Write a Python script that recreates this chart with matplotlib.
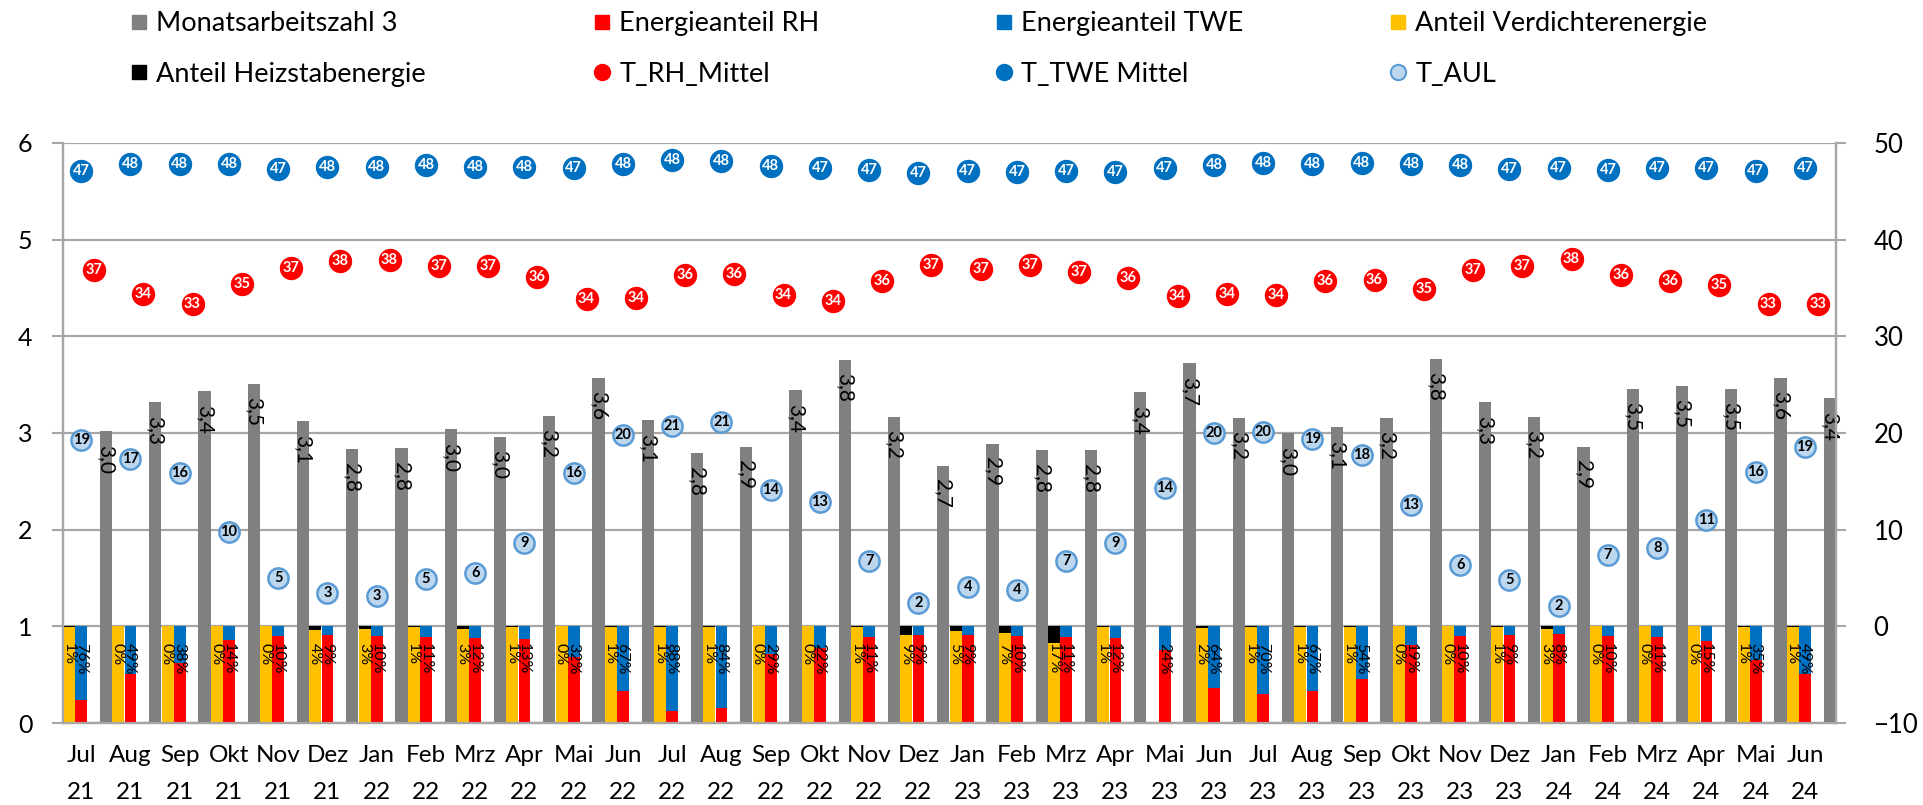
import matplotlib
matplotlib.use('Agg')
import matplotlib.pyplot as plt
from matplotlib.lines import Line2D
import numpy as np

plt.rcParams['font.family'] = ['Lato', 'DejaVu Sans']

months = ['Jul\n21', 'Aug\n21', 'Sep\n21', 'Okt\n21', 'Nov\n21', 'Dez\n21',
          'Jan\n22', 'Feb\n22', 'Mrz\n22', 'Apr\n22', 'Mai\n22', 'Jun\n22',
          'Jul\n22', 'Aug\n22', 'Sep\n22', 'Okt\n22', 'Nov\n22', 'Dez\n22',
          'Jan\n23', 'Feb\n23', 'Mrz\n23', 'Apr\n23', 'Mai\n23', 'Jun\n23',
          'Jul\n23', 'Aug\n23', 'Sep\n23', 'Okt\n23', 'Nov\n23', 'Dez\n23',
          'Jan\n24', 'Feb\n24', 'Mrz\n24', 'Apr\n24', 'Mai\n24', 'Jun\n24']

# Monatsarbeitszahl 3
maz3 = [3.02, 3.32, 3.43, 3.51, 3.12, 2.83, 2.84, 3.04, 2.96, 3.18, 3.57, 3.13,
        2.79, 2.86, 3.44, 3.76, 3.17, 2.66, 2.89, 2.82, 2.82, 3.42, 3.72, 3.16,
        3.00, 3.06, 3.16, 3.77, 3.32, 3.17, 2.86, 3.46, 3.49, 3.46, 3.57, 3.36]

# Energieanteil TWE in % (RH = 100 - TWE)
twe_pct = [76, 49, 38, 14, 10, 9, 10, 11, 12, 13, 32, 67,
           88, 84, 29, 22, 11, 9, 9, 10, 11, 12, 24, 64,
           70, 67, 54, 19, 10, 9, 8, 10, 11, 15, 35, 49]

# Anteil Heizstabenergie in % (Verdichter = 100 - Heizstab); None = no data
heiz_pct = [1, 0, 0, 0, 0, 4, 3, 1, 3, 1, 0, 1,
            1, 1, 0, 0, 1, 9, 5, 7, 17, 1, None, 2,
            1, 1, 1, 0, 0, 1, 3, 0, 0, 0, 1, 1]

t_twe = [47.1, 47.8, 47.8, 47.8, 47.3, 47.55, 47.55, 47.7, 47.55, 47.55, 47.45, 47.8,
         48.25, 48.1, 47.65, 47.45, 47.2, 46.9, 47.15, 47.0, 47.15, 47.0, 47.4, 47.75,
         47.95, 47.85, 47.95, 47.85, 47.75, 47.33, 47.45, 47.2, 47.4, 47.4, 47.15, 47.45]

t_rh = [36.9, 34.4, 33.35, 35.45, 37.1, 37.75, 37.85, 37.3, 37.3, 36.1, 33.9, 34.0,
        36.3, 36.45, 34.3, 33.65, 35.75, 37.4, 37.0, 37.4, 36.7, 36.0, 34.15, 34.4,
        34.3, 35.75, 35.8, 34.9, 36.9, 37.25, 38.05, 36.3, 35.7, 35.35, 33.3, 33.35]

t_aul = [19.24, 17.35, 15.86, 9.75, 5.04, 3.45, 3.1, 4.93, 5.55, 8.66, 15.86, 19.76,
         20.7, 21.1, 14.1, 12.86, 6.76, 2.45, 4.07, 3.72, 6.72, 8.62, 14.35, 20.0,
         20.1, 19.4, 17.7, 12.6, 6.3, 4.76, 2.1, 7.34, 8.1, 10.97, 15.96, 18.6]

C_GREY = '#808080'
C_RED = '#FF0000'
C_BLUE = '#0070C0'
C_YEL = '#FFC000'
C_BLK = '#000000'
C_AUL_F = '#BDD7EE'
C_AUL_E = '#5B9BD5'
C_GRID = '#A6A6A6'

n = len(months)
x = np.arange(n)
twe = np.array(twe_pct) / 100.0
rh = 1.0 - twe
heiz = np.array([np.nan if v is None else v for v in heiz_pct], dtype=float) / 100.0
verd = 1.0 - heiz

W, H = 1924, 805
fig = plt.figure(figsize=(W / 100, H / 100), dpi=100)
L, R, B, T = 63, 1836, 723, 143
ax = fig.add_axes([L / W, 1 - B / H, (R - L) / W, (B - T) / H])
ax2 = ax.twinx()

bw = 0.24
# Verdichter + Heizstab bar
ax.bar(x + 0.125, verd, width=bw, color=C_YEL, zorder=3)
ax.bar(x + 0.125, heiz, width=bw, bottom=verd, color=C_BLK, zorder=3)
# RH + TWE bar
ax.bar(x + 0.37, rh, width=bw, color=C_RED, zorder=3)
ax.bar(x + 0.37, twe, width=bw, bottom=rh, color=C_BLUE, zorder=3)
# Monatsarbeitszahl
ax.bar(x + 0.875, maz3, width=0.25, color=C_GREY, zorder=3)

for i in range(n):
    ax.text(x[i] + 0.875, maz3[i] - 0.14, f"{maz3[i]:.1f}".replace('.', ','),
            rotation=270, ha='center', va='top', fontsize=15, color='black', zorder=5)
    if heiz_pct[i] is not None:
        ax.text(x[i] + 0.11, 0.83, f"{heiz_pct[i]}%", rotation=270, ha='center',
                va='top', fontsize=11.5, color='black', zorder=5)
    ax.text(x[i] + 0.36, 0.83, f"{twe_pct[i]}%", rotation=270, ha='center',
            va='top', fontsize=11.5, color='black', zorder=5)

ax.set_xlim(0, n)
ax.set_ylim(0, 6)
ax.set_yticks(range(0, 7))
ax.set_xticks(x + 0.37)
ax.set_xticklabels(months, fontsize=17.5, linespacing=1.9)
ax.tick_params(axis='x', length=0, pad=16)
ax.tick_params(axis='y', length=8, width=1.5, color=C_GRID, pad=14, labelsize=18)
ax.yaxis.grid(True, color=C_GRID, linewidth=1.6, zorder=0)
ax.set_axisbelow(True)

ax2.set_ylim(-10, 50)
ax2.set_yticks(range(-10, 51, 10))
ax2.tick_params(axis='y', length=7, width=1.5, color=C_GRID, pad=20, labelsize=18.5)

for a in (ax, ax2):
    a.spines['top'].set_visible(False)
    for s in ('left', 'right', 'bottom'):
        a.spines[s].set_color(C_GRID)
        a.spines[s].set_linewidth(1.6)

ms = 250
ax2.scatter(x + 0.37, t_twe, s=ms, color=C_BLUE, edgecolor=C_BLUE, zorder=6)
ax2.scatter(x + 0.63, t_rh, s=ms, color=C_RED, edgecolor=C_RED, zorder=6)
ax2.scatter(x + 0.37, t_aul, s=ms * 0.85, color=C_AUL_F, edgecolor=C_AUL_E,
            linewidth=1.8, zorder=6)
for i in range(n):
    ax2.text(x[i] + 0.37, t_twe[i], f"{t_twe[i]:.0f}", ha='center', va='center',
             fontsize=10.5, fontweight='bold', color='white', zorder=7)
    ax2.text(x[i] + 0.63, t_rh[i], f"{t_rh[i]:.0f}", ha='center', va='center',
             fontsize=10.5, fontweight='bold', color='white', zorder=7)
    ax2.text(x[i] + 0.37, t_aul[i], f"{t_aul[i]:.0f}", ha='center', va='center',
             fontsize=10.5, fontweight='bold', color='black', zorder=7)

# Legend in four columns
def sq(c):
    return Line2D([], [], marker='s', color=c, ls='none', markersize=10.5)

def dot(fc, ec=None):
    return Line2D([], [], marker='o', ls='none', markersize=11,
                  markerfacecolor=fc, markeredgecolor=ec or fc, markeredgewidth=1.5)

cols = [
    ([sq(C_GREY), sq(C_BLK)], ['Monatsarbeitszahl 3', 'Anteil Heizstabenergie'], 128),
    ([sq(C_RED), dot(C_RED)], ['Energieanteil RH', 'T_RH_Mittel'], 591),
    ([sq(C_BLUE), dot(C_BLUE)], ['Energieanteil TWE', 'T_TWE Mittel'], 993),
    ([sq(C_YEL), dot(C_AUL_F, C_AUL_E)], ['Anteil Verdichterenergie', 'T_AUL'], 1387),
]
for hs, ls_, xp in cols:
    fig.legend(hs, ls_, loc='upper left', bbox_to_anchor=(xp / W, 1 - 11 / H),
               frameon=False, fontsize=19.5, handlelength=0.8, handletextpad=0.25,
               borderpad=0, borderaxespad=0, labelspacing=0.95)

fig.savefig('out.png', dpi=100, facecolor='white')
